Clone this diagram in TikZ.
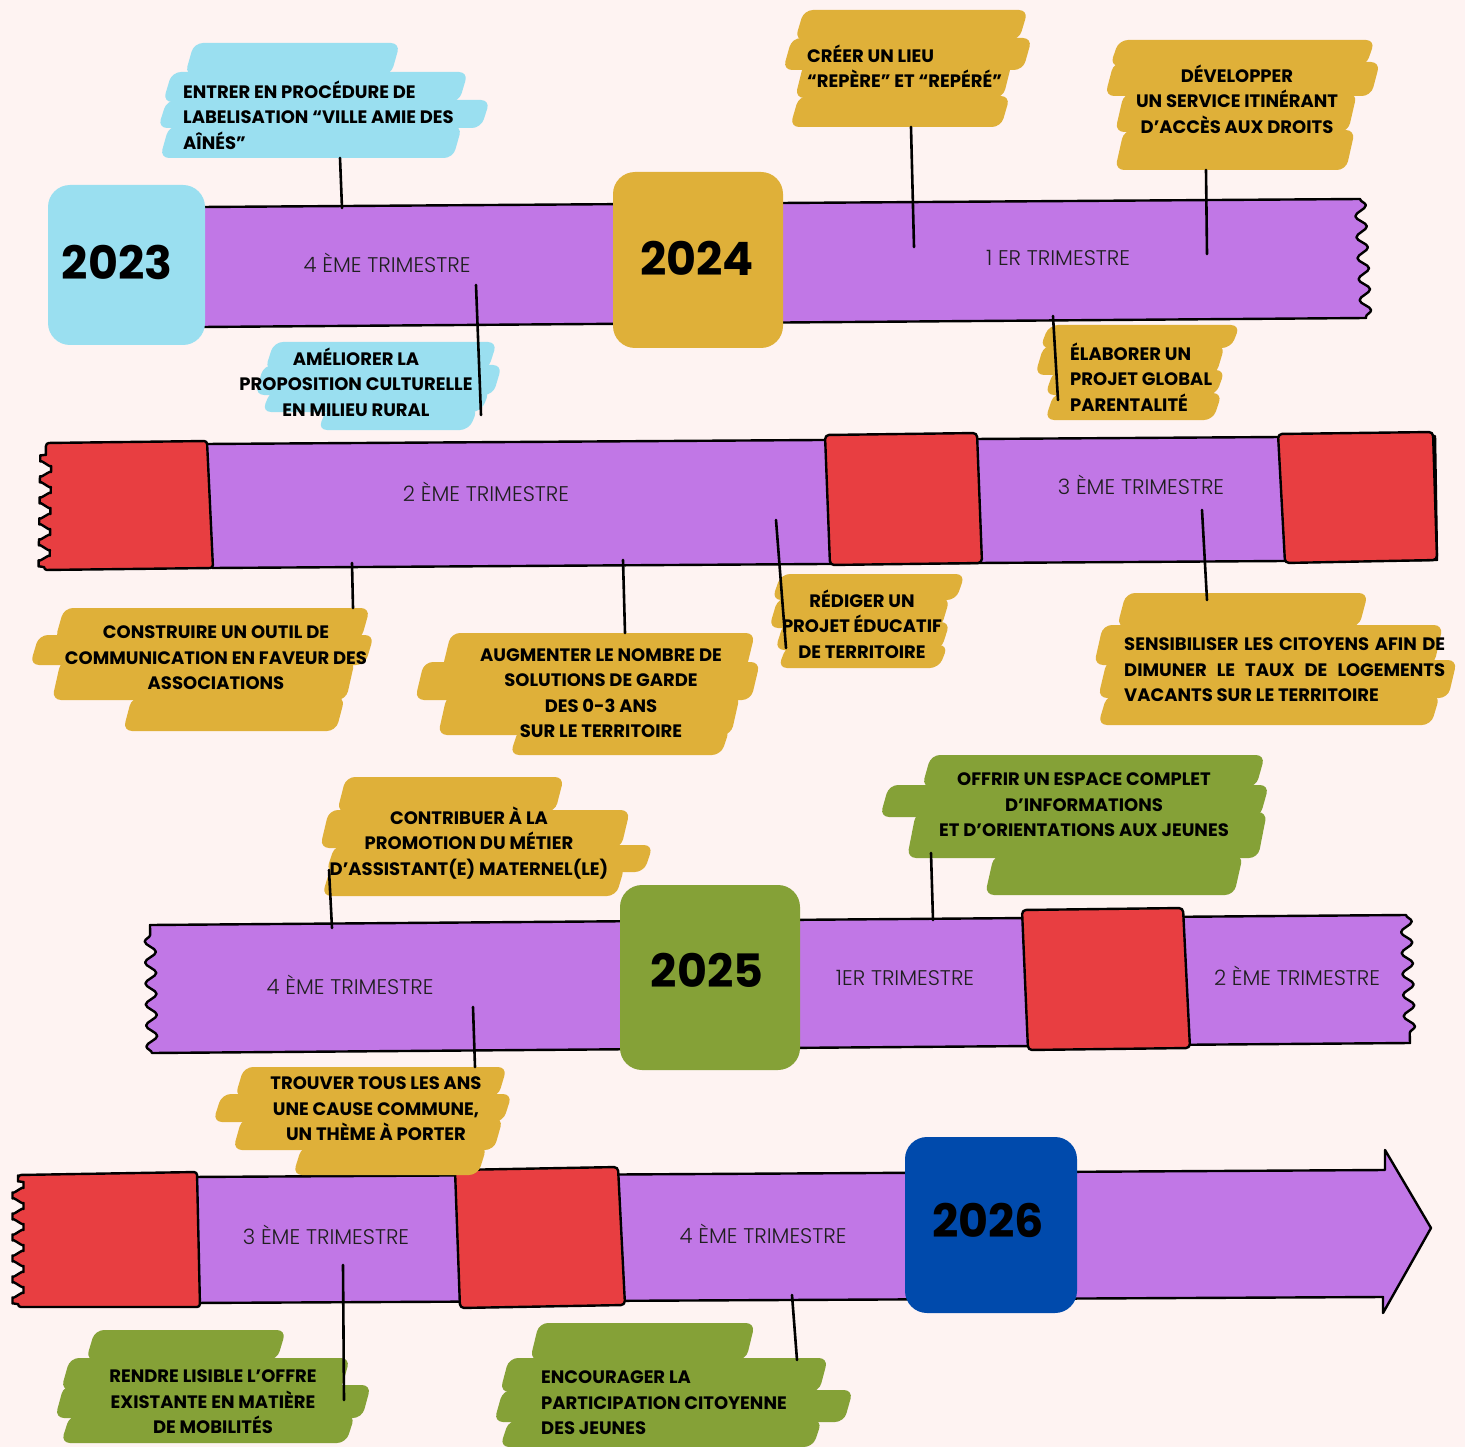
\documentclass[tikz,border=0pt]{standalone}
\usepackage{fontspec}
\setmainfont{Poppins}
\IfFontExistsTF{Poppins Light}{\newfontfamily\thinf{Poppins Light}}{\newfontfamily\thinf{Poppins}}
\usetikzlibrary{decorations.pathmorphing}
\definecolor{bg}{RGB}{254,243,242}
\definecolor{purp}{RGB}{193,119,230}
\definecolor{lblue}{RGB}{154,223,240}
\definecolor{gold}{RGB}{223,176,57}
\definecolor{rred}{RGB}{232,62,65}
\definecolor{ggreen}{RGB}{133,161,55}
\definecolor{dblue}{RGB}{0,74,172}
\newcommand\bstrip[5]{\fill[#1,rounded corners=9pt] ({#2+9},{#3}) -- ({#4},{#3}) -- ({#4-9},{#5}) -- ({#2},{#5}) -- cycle;}
\begin{document}
\begin{tikzpicture}[x=1pt,y=-1pt,
  outl/.style={draw=black,line width=2.4pt,line join=round},
  lbl/.style={font=\fontsize{18}{25.5}\selectfont\bfseries, text=black, inner sep=0pt, align=center},
  trim/.style={font=\thinf\fontsize{21.2}{22}\selectfont, text=black!88, inner sep=0pt},
  yr/.style={font=\fontsize{46}{50}\selectfont\bfseries, text=black, inner sep=0pt},
  conn/.style={draw=black, line width=2.6pt, line cap=round},
  wave/.style={decoration={snake, amplitude=5.5pt, segment length=21pt}}
]
\fill[bg] (0,0) rectangle (1465,1447);

% ---------- Row 1 ----------
\path[fill=purp,outl] (202,207) -- (1360,199) decorate[wave]{-- (1366,318)} -- (202,327) -- cycle;
\fill[lblue,rounded corners=22pt] (48,185) rectangle (205,345);
\fill[gold,rounded corners=22pt] (613,172) rectangle (783,348);
\node[yr] (y23) at (117,262) {2023};
\node[yr] (y24) at (697,258) {2024};
\node[trim] (t1) at (387,263) {4 ÈME TRIMESTRE};
\node[trim] (t2) at (1058,258) {1 ER TRIMESTRE};

% ---------- Row 2 ----------
\path[fill=purp,outl] (205,444) -- (1435,436) -- (1437,560) -- (212,568) -- cycle;
\path[fill=rred,outl,rounded corners=3pt] (207,441) -- (213,568) -- (44,570) decorate[wave]{-- (46,443)} -- cycle;
\path[fill=rred,outl,rounded corners=4pt] (825,435) -- (977,433) -- (982,563) -- (830,565) -- cycle;
\path[fill=rred,outl,rounded corners=4pt] (1278,434) -- (1433,432) -- (1437,560) -- (1285,563) -- cycle;
\node[trim] (t3) at (486,492) {2 ÈME TRIMESTRE};
\node[trim] (t4) at (1141,485) {3 ÈME TRIMESTRE};

% ---------- Row 3 ----------
\path[fill=purp,outl] (152,1053) decorate[wave]{-- (150,925)} -- (1406,915) decorate[wave]{-- (1410,1043)} -- cycle;
\path[fill=rred,outl,rounded corners=4pt] (1022,910) -- (1183,908) -- (1190,1048) -- (1028,1050) -- cycle;
\fill[ggreen,rounded corners=22pt] (620,885) rectangle (800,1070);
\node[yr] (y25) at (707,970) {2025};
\node[trim] (t5) at (350,985) {4 ÈME TRIMESTRE};
\node[trim] (t6) at (905,978) {1ER TRIMESTRE};
\node[trim] (t7) at (1297,976) {2 ÈME TRIMESTRE};

% ---------- Row 4 ----------
\path[fill=purp,outl] (190,1177) -- (1385,1170) -- (1385,1150) -- (1431,1228) -- (1383,1313) -- (1383,1297) -- (190,1303) -- cycle;
\path[fill=rred,outl,rounded corners=3pt] (197,1172) -- (200,1307) -- (18,1307) decorate[wave]{-- (18,1175)} -- cycle;
\path[fill=rred,outl,rounded corners=4pt] (455,1170) -- (618,1167) -- (625,1305) -- (460,1308) -- cycle;
\fill[dblue,rounded corners=22pt] (905,1137) rectangle (1077,1313);
\node[yr] (y26) at (988,1220) {2026};
\node[trim] (t8) at (326,1235) {3 ÈME TRIMESTRE};
\node[trim] (t9) at (763,1234) {4 ÈME TRIMESTRE};

% ---------- brush backgrounds ----------
% A
\bstrip{lblue}{185}{43}{400}{75}
\bstrip{lblue}{163}{72}{468}{102}
\bstrip{lblue}{158}{100}{490}{128}
\bstrip{lblue}{160}{126}{462}{158}
% B
\bstrip{lblue}{265}{342}{497}{370}
\bstrip{lblue}{255}{365}{502}{395}
\bstrip{lblue}{262}{390}{490}{412}
\bstrip{lblue}{318}{408}{478}{430}
% C
\bstrip{gold}{795}{10}{1028}{40}
\bstrip{gold}{783}{38}{1032}{70}
\bstrip{gold}{795}{62}{1012}{98}
\bstrip{gold}{790}{96}{1010}{127}
% D
\bstrip{gold}{1110}{40}{1375}{66}
\bstrip{gold}{1105}{62}{1380}{96}
\bstrip{gold}{1115}{93}{1357}{132}
\bstrip{gold}{1115}{130}{1355}{170}
% E
\bstrip{gold}{1040}{325}{1240}{348}
\bstrip{gold}{1035}{345}{1225}{375}
\bstrip{gold}{1045}{370}{1225}{395}
\bstrip{gold}{1045}{393}{1222}{420}
% F
\bstrip{gold}{55}{608}{370}{640}
\bstrip{gold}{30}{635}{374}{665}
\bstrip{gold}{52}{660}{355}{700}
\bstrip{gold}{123}{697}{345}{731}
% G
\bstrip{gold}{442}{633}{755}{670}
\bstrip{gold}{415}{662}{760}{700}
\bstrip{gold}{438}{695}{740}{735}
\bstrip{gold}{510}{728}{730}{755}
% H
\bstrip{gold}{772}{574}{965}{600}
\bstrip{gold}{769}{598}{950}{628}
\bstrip{gold}{775}{622}{950}{650}
\bstrip{gold}{778}{645}{948}{668}
% I
\bstrip{gold}{1117}{593}{1368}{627}
\bstrip{gold}{1094}{625}{1443}{665}
\bstrip{gold}{1098}{660}{1457}{698}
\bstrip{gold}{1098}{695}{1440}{725}
% J
\bstrip{gold}{337}{777}{564}{812}
\bstrip{gold}{320}{810}{630}{848}
\bstrip{gold}{326}{845}{653}{872}
\bstrip{gold}{322}{866}{625}{896}
% K
\bstrip{ggreen}{922}{755}{1265}{787}
\bstrip{ggreen}{880}{785}{1269}{817}
\bstrip{ggreen}{907}{812}{1267}{858}
\bstrip{ggreen}{985}{855}{1243}{895}
% L
\bstrip{gold}{235}{1067}{507}{1097}
\bstrip{gold}{213}{1094}{512}{1122}
\bstrip{gold}{233}{1118}{503}{1150}
\bstrip{gold}{293}{1146}{487}{1175}
% M
\bstrip{ggreen}{86}{1330}{286}{1360}
\bstrip{ggreen}{61}{1358}{350}{1390}
\bstrip{ggreen}{55}{1385}{371}{1418}
\bstrip{ggreen}{61}{1415}{355}{1443}
% N
\bstrip{ggreen}{530}{1323}{755}{1360}
\bstrip{ggreen}{500}{1358}{828}{1392}
\bstrip{ggreen}{494}{1390}{853}{1422}
\bstrip{ggreen}{500}{1420}{822}{1447}

% ---------- label texts ----------
\node[lbl,anchor=west,align=left] (lA) at (183,115) {ENTRER EN PROCÉDURE DE\\LABELISATION “VILLE AMIE DES\\AÎNÉS”};
\node[lbl] (lB) at (356,382) {AMÉLIORER LA\\PROPOSITION CULTURELLE\\EN MILIEU RURAL};
\node[lbl,anchor=west,align=left] (lC) at (807,66) {CRÉER UN LIEU\\“REPÈRE” ET “REPÉRÉ”};
\node[lbl] (lD) at (1237,99) {DÉVELOPPER\\UN SERVICE ITINÉRANT\\D’ACCÈS AUX DROITS};
\node[lbl,anchor=west,align=left] (lE) at (1070,377) {ÉLABORER UN\\PROJET GLOBAL\\PARENTALITÉ};
\node[lbl] (lF) at (216,658) {CONSTRUIRE UN OUTIL DE\\COMMUNICATION EN FAVEUR DES\\ASSOCIATIONS};
\node[lbl] (lG) at (601,693) {AUGMENTER LE NOMBRE DE\\SOLUTIONS DE GARDE\\DES 0-3 ANS\\SUR LE TERRITOIRE};
\node[lbl] (lH) at (862,624) {RÉDIGER UN\\PROJET ÉDUCATIF\\DE TERRITOIRE};
\node[lbl,anchor=west,align=left] (lI) at (1124,670) {\makebox[321pt][s]{SENSIBILISER LES CITOYENS AFIN DE}\\\makebox[321pt][s]{DIMUNER LE TAUX DE LOGEMENTS}\\VACANTS SUR LE TERRITOIRE};
\node[lbl] (lJ) at (469,843) {CONTRIBUER À LA\\PROMOTION DU MÉTIER\\D’ASSISTANT(E) MATERNEL(LE)};
\node[lbl] (lK) at (1084,805) {OFFRIR UN ESPACE COMPLET\\D’INFORMATIONS\\ET D’ORIENTATIONS AUX JEUNES};
\node[lbl] (lL) at (376,1109) {TROUVER TOUS LES ANS\\UNE CAUSE COMMUNE,\\UN THÈME À PORTER};
\node[lbl] (lM) at (213,1402) {RENDRE LISIBLE L’OFFRE\\EXISTANTE EN MATIÈRE\\DE MOBILITÉS};
\node[lbl,anchor=west,align=left] (lN) at (541,1403) {ENCOURAGER LA\\PARTICIPATION CITOYENNE\\DES JEUNES};

% ---------- connectors ----------
\coordinate (kA1) at (340,158); \coordinate (kA2) at (342,208);
\coordinate (kB1) at (476,285); \coordinate (kB2) at (481,415);
\coordinate (kC1) at (911,127); \coordinate (kC2) at (914,247);
\coordinate (kD1) at (1206,170); \coordinate (kD2) at (1207,254);
\coordinate (kE1) at (1053,316); \coordinate (kE2) at (1058,400);
\coordinate (kF1) at (352,563); \coordinate (kF2) at (353,608);
\coordinate (kG1) at (623,560); \coordinate (kG2) at (625,633);
\coordinate (kH1) at (776,520); \coordinate (kH2) at (786,648);
\coordinate (kI1) at (1202,510); \coordinate (kI2) at (1207,600);
\coordinate (kJ1) at (329,870); \coordinate (kJ2) at (332,928);
\coordinate (kK1) at (931,853); \coordinate (kK2) at (933,920);
\coordinate (kL1) at (473,1007); \coordinate (kL2) at (475,1067);
\coordinate (kM1) at (343,1265); \coordinate (kM2) at (344,1400);
\coordinate (kN1) at (792,1295); \coordinate (kN2) at (797,1360);
\foreach \k in {A,B,C,D,E,F,G,H,I,J,K,L,M,N}{\draw[conn] (k\k1) -- (k\k2);}
\end{tikzpicture}
\end{document}
